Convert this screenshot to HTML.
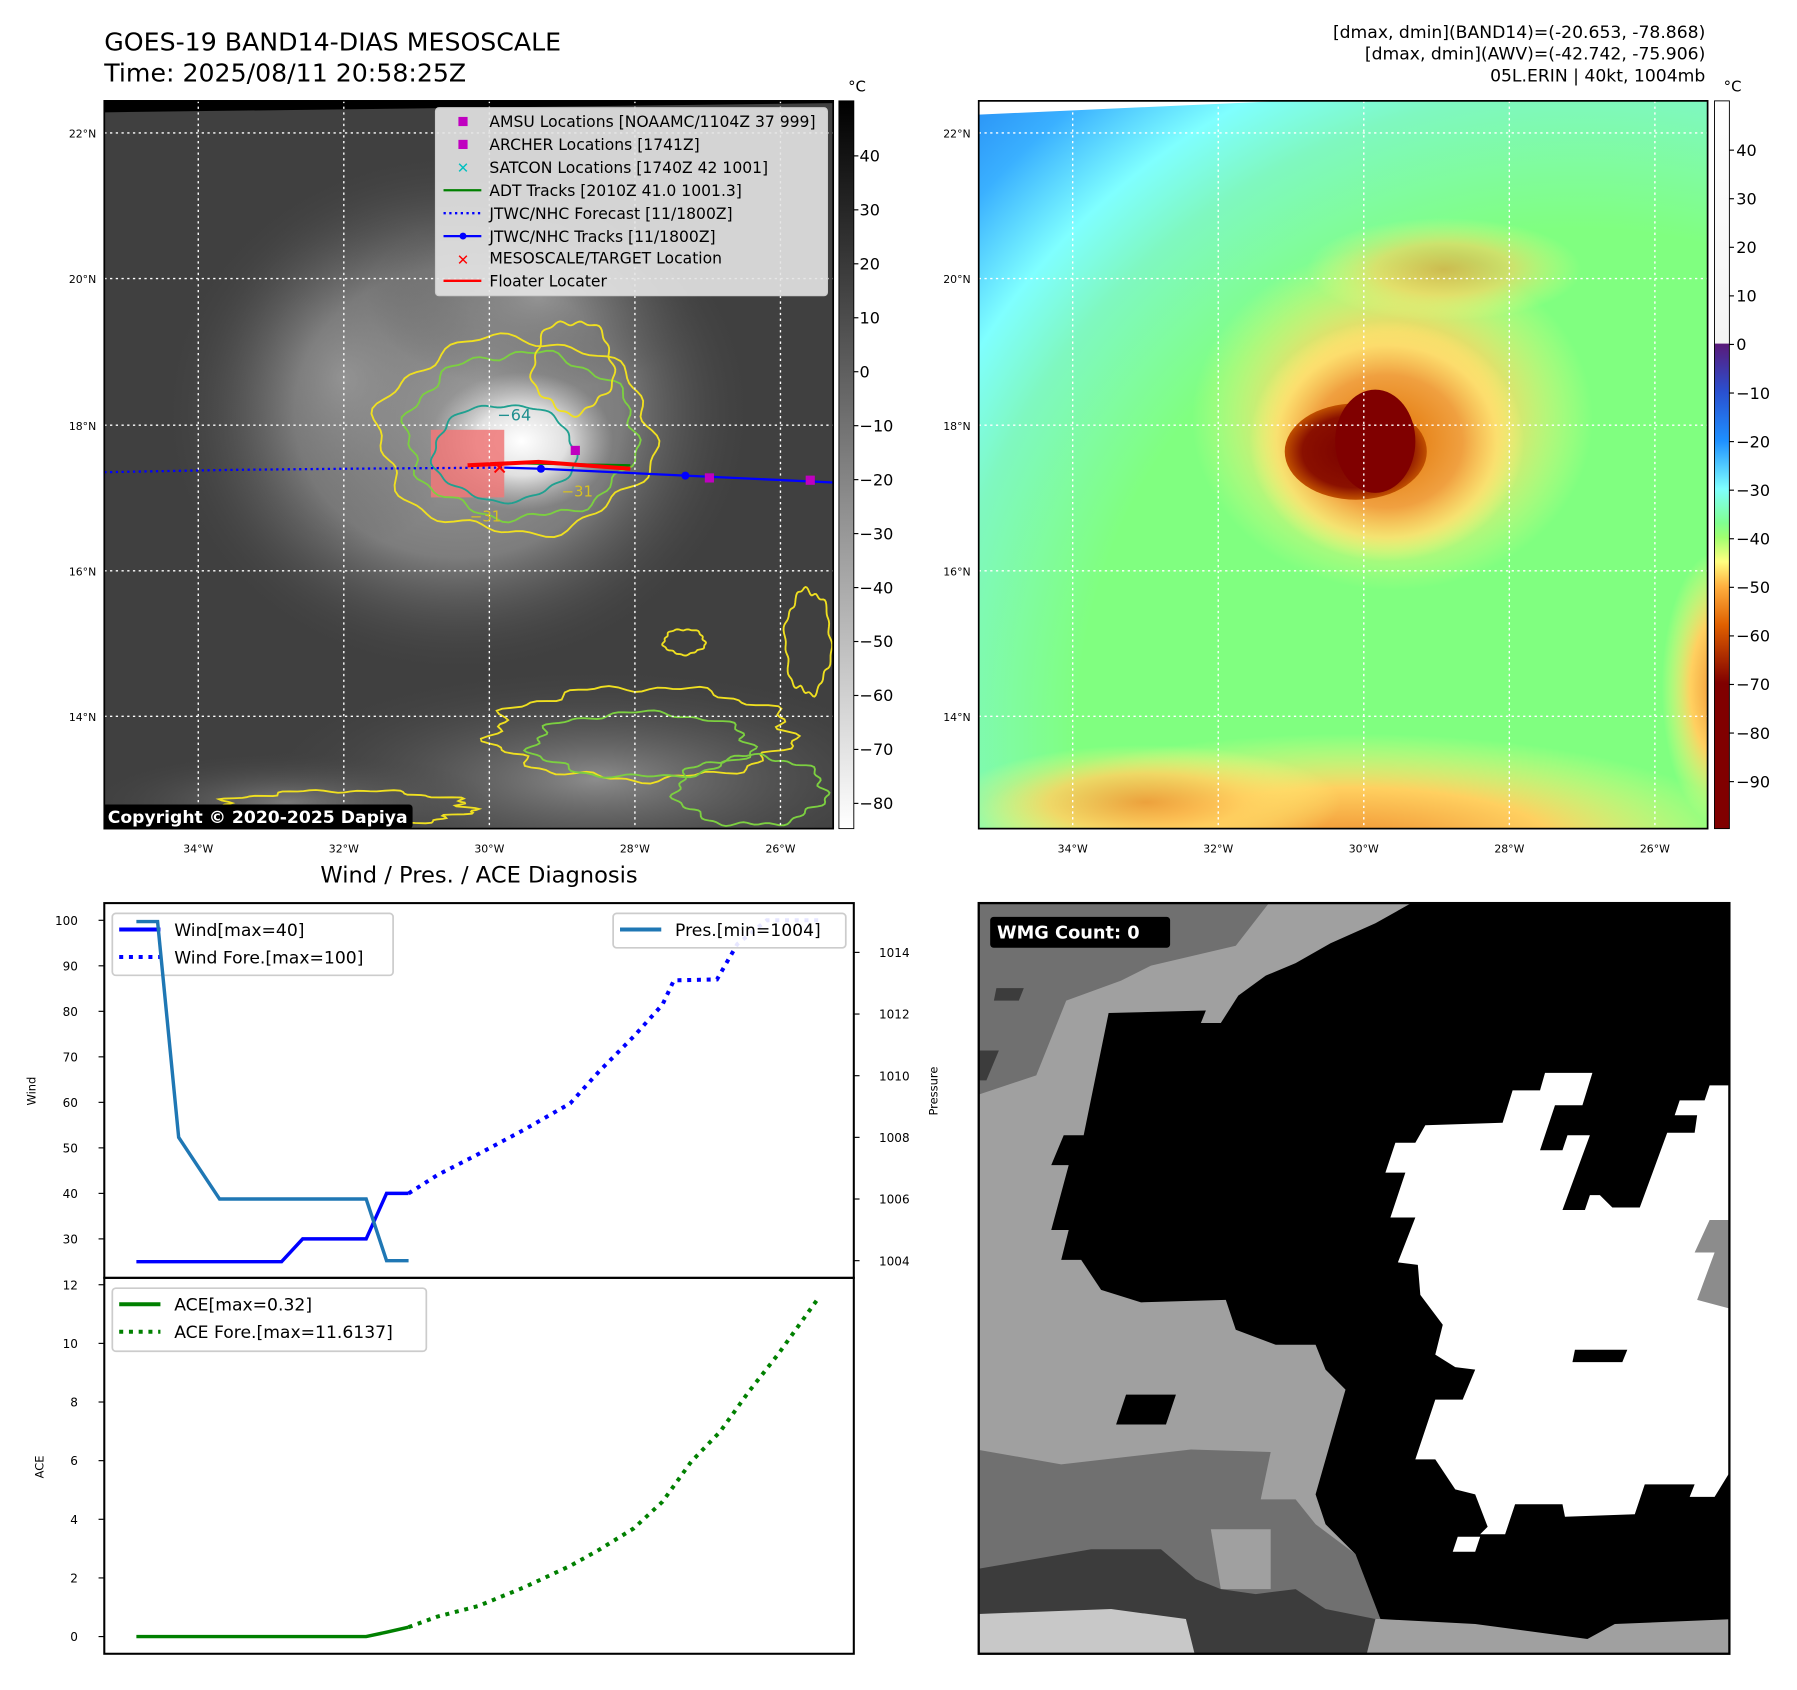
<!DOCTYPE html>
<html><head><meta charset="utf-8"><style>
html,body{margin:0;padding:0;background:#fff}
svg{display:block;font-family:"DejaVu Sans","Liberation Sans",sans-serif}
</style></head><body>
<svg id="root" width="1797" height="1690" viewBox="0 0 1568 1474.6" xmlns="http://www.w3.org/2000/svg">
<defs>
<clipPath id="c1"><rect x="91" y="88" width="636" height="635"/></clipPath>
<clipPath id="c2"><rect x="854" y="88" width="636" height="635"/></clipPath>
<clipPath id="c3"><rect x="854" y="788" width="655" height="655"/></clipPath>
<clipPath id="cTop"><rect x="91" y="788" width="654" height="327"/></clipPath>
<clipPath id="cBot"><rect x="91" y="1115" width="654" height="328"/></clipPath>
<linearGradient id="gcb1" x1="0" y1="0" x2="0" y2="1"><stop offset="0" stop-color="#000"/><stop offset="1" stop-color="#fff"/></linearGradient>
<linearGradient id="gcb2" x1="0" y1="0" x2="0" y2="1">
<stop offset="0" stop-color="#ffffff"/><stop offset="0.333" stop-color="#f4f4f4"/>
<stop offset="0.334" stop-color="#5a1a7a"/><stop offset="0.4" stop-color="#2a50d0"/>
<stop offset="0.467" stop-color="#1e90ff"/><stop offset="0.533" stop-color="#7fffff"/>
<stop offset="0.58" stop-color="#80ff90"/><stop offset="0.6" stop-color="#a0ff70"/>
<stop offset="0.633" stop-color="#ffff80"/><stop offset="0.667" stop-color="#ffb040"/>
<stop offset="0.72" stop-color="#e06000"/><stop offset="0.8" stop-color="#800000"/>
<stop offset="1" stop-color="#800000"/></linearGradient>
<radialGradient id="gbg2" cx="1380" cy="640" r="800" gradientUnits="userSpaceOnUse">
<stop offset="0" stop-color="#80ff80"/><stop offset="0.55" stop-color="#80ff80"/>
<stop offset="0.7" stop-color="#7ff8c0"/><stop offset="0.78" stop-color="#7fffff"/>
<stop offset="0.88" stop-color="#3ab0ff"/><stop offset="1" stop-color="#2080f0"/></radialGradient>
<radialGradient id="gstorm" cx="0.5" cy="0.5" r="0.5">
<stop offset="0" stop-color="#e07000"/><stop offset="0.55" stop-color="#f0a040"/>
<stop offset="0.8" stop-color="#ffe070" stop-opacity="0.8"/><stop offset="1" stop-color="#ffff80" stop-opacity="0"/></radialGradient>
<radialGradient id="geye" cx="0.5" cy="0.5" r="0.5">
<stop offset="0" stop-color="#7a0000"/><stop offset="0.75" stop-color="#8a1000"/><stop offset="1" stop-color="#c05000"/></radialGradient>
<radialGradient id="gband" cx="0.5" cy="0.5" r="0.5">
<stop offset="0" stop-color="#f09030"/><stop offset="0.5" stop-color="#ffd060"/><stop offset="1" stop-color="#ffff80" stop-opacity="0"/></radialGradient>
<radialGradient id="gcloud" cx="0.5" cy="0.5" r="0.5">
<stop offset="0" stop-color="#b8b8b8"/><stop offset="0.55" stop-color="#8c8c8c"/><stop offset="1" stop-color="#404040" stop-opacity="0"/></radialGradient>
<radialGradient id="gcore" cx="0.5" cy="0.5" r="0.5">
<stop offset="0" stop-color="#ffffff"/><stop offset="0.5" stop-color="#e0e0e0"/><stop offset="1" stop-color="#c0c0c0" stop-opacity="0"/></radialGradient>
<radialGradient id="glow" cx="0.5" cy="0.5" r="0.5">
<stop offset="0" stop-color="#a0a0a0"/><stop offset="1" stop-color="#404040" stop-opacity="0"/></radialGradient>
</defs>

<text x="91" y="44" font-size="22">GOES-19 BAND14-DIAS MESOSCALE</text>
<text x="91" y="71" font-size="22">Time: 2025/08/11 20:58:25Z</text>
<g font-size="15" text-anchor="end">
<text x="1488" y="33">[dmax, dmin](BAND14)=(-20.653, -78.868)</text>
<text x="1488" y="52">[dmax, dmin](AWV)=(-42.742, -75.906)</text>
<text x="1488" y="71">05L.ERIN | 40kt, 1004mb</text>
</g>

<g>
<g clip-path="url(#c1)">
<rect x="91" y="88" width="636" height="635" fill="#404040"/>
<polygon points="91,88 727,88 727,90 91,98" fill="#000"/>
<ellipse cx="400" cy="360" rx="260" ry="230" fill="url(#gcloud)" opacity="0.8"/>
<ellipse cx="300" cy="330" rx="120" ry="150" fill="url(#glow)" opacity="0.5"/>
<ellipse cx="470" cy="260" rx="150" ry="80" fill="url(#glow)" opacity="0.6"/>
<ellipse cx="455" cy="385" rx="80" ry="60" fill="url(#gcore)"/>
<ellipse cx="520" cy="680" rx="300" ry="100" fill="url(#glow)" opacity="0.8"/>
<ellipse cx="250" cy="700" rx="180" ry="45" fill="url(#glow)" opacity="0.6"/>
<rect x="376" y="375" width="64" height="59" fill="#f07878" opacity="0.85"/>
<g id="contours1" fill="none"></g>
<g stroke="#fff" stroke-width="1.2" stroke-dasharray="2,3">
<line x1="173" y1="88" x2="173" y2="723"/><line x1="300" y1="88" x2="300" y2="723"/><line x1="427" y1="88" x2="427" y2="723"/><line x1="554" y1="88" x2="554" y2="723"/><line x1="681" y1="88" x2="681" y2="723"/>
<line x1="91" y1="116" x2="727" y2="116"/><line x1="91" y1="243" x2="727" y2="243"/><line x1="91" y1="371" x2="727" y2="371"/><line x1="91" y1="498" x2="727" y2="498"/><line x1="91" y1="625" x2="727" y2="625"/>
</g>
<polyline points="91,412 200,410 300,409 440,408" fill="none" stroke="#0000ff" stroke-width="2" stroke-dasharray="2,3"/>
<polyline points="440,408 472,409 598,415 727,421" fill="none" stroke="#0000ff" stroke-width="2"/>
<circle cx="472" cy="409" r="3.5" fill="#0000ff"/><circle cx="598" cy="415" r="3.5" fill="#0000ff"/>
<polyline points="440,404 550,406" stroke="#008000" stroke-width="2" fill="none"/>
<polyline points="408,406 470,403 550,409" stroke="#ff0000" stroke-width="3.5" fill="none"/>
<rect x="498" y="389" width="8" height="8" fill="#c000c0"/><rect x="615" y="413" width="8" height="8" fill="#c000c0"/><rect x="703" y="415" width="8" height="8" fill="#c000c0"/>
<text x="436" y="414" fill="#ff0000" font-size="17" font-weight="bold" text-anchor="middle">✕</text>
<text x="434" y="367" fill="#1f8f8f" font-size="14">−64</text>
<text x="490" y="433" fill="#d8c020" font-size="13">−31</text>
<text x="410" y="455" fill="#d8c020" font-size="13">−31</text>
<g>
<rect x="380" y="94" width="342" height="164" rx="3" fill="#e4e4e4" fill-opacity="0.9" stroke="#ccc"/>
<g font-size="13.6">
<rect x="400" y="102" width="8" height="8" fill="#c000c0"/><text x="427" y="111">AMSU Locations [NOAAMC/1104Z 37 999]</text>
<rect x="400" y="122" width="8" height="8" fill="#c000c0"/><text x="427" y="131">ARCHER Locations [1741Z]</text>
<text x="404" y="151" fill="#00c0c0" font-size="13" font-weight="bold" text-anchor="middle">✕</text><text x="427" y="151">SATCON Locations [1740Z 42 1001]</text>
<line x1="387" y1="166" x2="420" y2="166" stroke="#008000" stroke-width="2"/><text x="427" y="171">ADT Tracks [2010Z 41.0 1001.3]</text>
<line x1="387" y1="186" x2="420" y2="186" stroke="#0000ff" stroke-width="2" stroke-dasharray="2,3"/><text x="427" y="191">JTWC/NHC Forecast [11/1800Z]</text>
<line x1="387" y1="206" x2="420" y2="206" stroke="#0000ff" stroke-width="2"/><circle cx="404" cy="206" r="3" fill="#0000ff"/><text x="427" y="211">JTWC/NHC Tracks [11/1800Z]</text>
<text x="404" y="231" fill="#ff0000" font-size="13" font-weight="bold" text-anchor="middle">✕</text><text x="427" y="230">MESOSCALE/TARGET Location</text>
<line x1="387" y1="245" x2="420" y2="245" stroke="#ff0000" stroke-width="2"/><text x="427" y="250">Floater Locater</text>
</g></g>
<rect x="89" y="702" width="271" height="21" rx="3" fill="#000"/>
<text x="94" y="718" fill="#fff" font-size="15" font-weight="bold">Copyright © 2020-2025 Dapiya</text>
</g>
<rect x="91" y="88" width="636" height="635" fill="none" stroke="#000" stroke-width="1.5"/>
<g font-size="9.5" text-anchor="end"><text x="84" y="120">22°N</text><text x="84" y="247">20°N</text><text x="84" y="375">18°N</text><text x="84" y="502">16°N</text><text x="84" y="629">14°N</text></g>
<g font-size="9.5" text-anchor="middle"><text x="173" y="744">34°W</text><text x="300" y="744">32°W</text><text x="427" y="744">30°W</text><text x="554" y="744">28°W</text><text x="681" y="744">26°W</text></g>
</g>
<g>
<rect x="732" y="88" width="13" height="635" fill="url(#gcb1)" stroke="#000" stroke-width="0.8"/>
<text x="740" y="80" font-size="13">°C</text>
<g id="cb1labels" font-size="14"></g>
</g>

<g>
<g clip-path="url(#c2)">
<rect x="854" y="88" width="636" height="635" fill="url(#gbg2)"/>
<polygon points="854,88 1120,88 854,100" fill="#fff"/>
<ellipse cx="1215" cy="365" rx="175" ry="150" fill="url(#gband)" opacity="0.9"/>
<ellipse cx="1210" cy="385" rx="120" ry="105" fill="url(#gstorm)"/>
<ellipse cx="1183" cy="394" rx="62" ry="42" fill="url(#geye)"/>
<ellipse cx="1200" cy="385" rx="35" ry="45" fill="#800000"/>
<ellipse cx="1180" cy="735" rx="350" ry="95" fill="url(#gband)"/>
<ellipse cx="1500" cy="600" rx="50" ry="120" fill="url(#gband)"/>
<ellipse cx="1000" cy="700" rx="170" ry="50" fill="url(#gband)" opacity="0.8"/>
<ellipse cx="1260" cy="235" rx="120" ry="45" fill="url(#gband)" opacity="0.6"/>
<g stroke="#fff" stroke-width="1.2" stroke-dasharray="2,3">
<line x1="936" y1="88" x2="936" y2="723"/><line x1="1063" y1="88" x2="1063" y2="723"/><line x1="1190" y1="88" x2="1190" y2="723"/><line x1="1317" y1="88" x2="1317" y2="723"/><line x1="1444" y1="88" x2="1444" y2="723"/>
<line x1="854" y1="116" x2="1490" y2="116"/><line x1="854" y1="243" x2="1490" y2="243"/><line x1="854" y1="371" x2="1490" y2="371"/><line x1="854" y1="498" x2="1490" y2="498"/><line x1="854" y1="625" x2="1490" y2="625"/>
</g></g>
<rect x="854" y="88" width="636" height="635" fill="none" stroke="#000" stroke-width="1.5"/>
<g font-size="9.5" text-anchor="end"><text x="847" y="120">22°N</text><text x="847" y="247">20°N</text><text x="847" y="375">18°N</text><text x="847" y="502">16°N</text><text x="847" y="629">14°N</text></g>
<g font-size="9.5" text-anchor="middle"><text x="936" y="744">34°W</text><text x="1063" y="744">32°W</text><text x="1190" y="744">30°W</text><text x="1317" y="744">28°W</text><text x="1444" y="744">26°W</text></g>
</g>
<g>
<rect x="1496" y="88" width="13" height="635" fill="url(#gcb2)" stroke="#000" stroke-width="0.8"/>
<text x="1504" y="80" font-size="13">°C</text>
<g id="cb2labels" font-size="14"></g>
</g>

<text x="418" y="770" font-size="19.7" text-anchor="middle">Wind / Pres. / ACE Diagnosis</text>
<g id="chart"></g>

<g>
<g clip-path="url(#c3)">
<g transform="translate(852,786) scale(0.4352)">
<rect x="0" y="0" width="1520" height="1520" fill="#a0a0a0"/>
<polygon points="0,0 590,0 520,90 350,130 290,160 180,200 120,350 0,390" fill="#707070"/>
<polygon points="40,175 95,175 85,200 35,200" fill="#3c3c3c"/><polygon points="0,300 45,300 20,360 0,360" fill="#3c3c3c"/>
<polygon points="0,1100 170,1130 430,1100 590,1105 570,1200 640,1200 680,1250 760,1310 810,1440 0,1440" fill="#707070"/>
<polygon points="470,1260 590,1260 590,1380 490,1380" fill="#a0a0a0"/>
<polygon points="0,1340 230,1300 370,1300 440,1360 490,1380 560,1390 640,1380 700,1420 800,1440 780,1520 0,1520" fill="#3c3c3c"/>
<polygon points="0,1430 270,1420 420,1440 440,1520 0,1520" fill="#c8c8c8"/>
<polygon points="810,1440 1000,1430 1000,1455 1225,1450 1230,1480 1275,1480 1280,1445 1520,1440 1520,1520 870,1520" fill="#a0a0a0"/>
<polygon points="880,0 1520,0 1520,1440 1280,1450 1225,1480 1000,1450 810,1440 760,1310 700,1250 680,1190 740,980 700,940 680,890 600,890 520,860 500,800 330,805 250,780 210,720 170,720 185,660 150,660 185,530 150,530 175,470 215,470 265,225 460,220 450,245 490,245 525,190 580,150 640,125 710,85 800,45" fill="#000"/>
<polygon points="1140,345 1235,345 1215,410 1160,410 1130,500 1175,500 1185,470 1230,470 1175,620 1220,620 1230,590 1250,590 1275,615 1330,615 1385,465 1440,465 1445,430 1400,430 1410,400 1460,400 1470,370 1520,370 1520,1130 1480,1195 1430,1195 1440,1170 1340,1170 1320,1230 1180,1235 1175,1210 1080,1210 1060,1270 1010,1270 1025,1255 1000,1190 960,1180 920,1120 880,1120 920,1000 975,1000 1000,940 960,935 920,910 935,850 890,790 885,730 845,725 880,635 830,635 860,545 820,545 840,485 880,485 900,450 1055,445 1075,380 1130,380" fill="#fff"/>
<polygon points="1200,900 1305,900 1295,925 1195,925" fill="#000"/>
<polygon points="300,990 400,990 380,1050 280,1050" fill="#000"/>
<polygon points="965,1275 1010,1275 1000,1305 955,1305" fill="#fff"/>
<polygon points="1520,640 1470,640 1440,705 1480,705 1445,800 1520,820" fill="#8c8c8c"/>
</g>
<rect x="864" y="800" width="157" height="27" rx="3" fill="#000"/>
<text x="870" y="819" fill="#fff" font-size="15.5" font-weight="bold">WMG Count: 0</text>
</g>
<rect x="854" y="788" width="655" height="655" fill="none" stroke="#000" stroke-width="2"/>
</g>
</svg>
<script>
var obsHours = [0, 2.8, 5.6, 11, 19.2, 22, 30.4, 33.1, 36];
var obsWind = [25, 25, 25, 25, 25, 30, 30, 40, 40];
var obsPres = [1015, 1015, 1008, 1006, 1006, 1006, 1006, 1004, 1004];
var obsAce = [0, 0, 0, 0, 0, 0, 0, 0.15, 0.32];
var foreHours = [36, 39.8, 45.2, 51.3, 57.4, 61.2, 65.8, 69.6, 71.1, 76.8, 79.5, 83.4, 90.2];
var foreWind = [40, 44, 48.6, 54, 59.8, 66.8, 74.5, 81.5, 86.8, 87, 94.8, 100, 100];
var aceForeHours = [36, 39.8, 45.2, 51.3, 57.4, 61.2, 65.8, 69.6, 73.4, 77.2, 81, 84.9, 90.2];
var foreAce = [0.32, 0.68, 1.04, 1.68, 2.41, 2.96, 3.69, 4.6, 5.97, 6.98, 8.35, 9.63, 11.54];
var windTicks = [30, 40, 50, 60, 70, 80, 90, 100];
var presTicks = [1004, 1006, 1008, 1010, 1012, 1014];
var aceTicks = [0, 2, 4, 6, 8, 10, 12];
var cb1Ticks = [40, 30, 20, 10, 0, -10, -20, -30, -40, -50, -60, -70, -80];
var cb2Ticks = [40, 30, 20, 10, 0, -10, -20, -30, -40, -50, -60, -70, -80, -90];

var NS = 'http://www.w3.org/2000/svg';
function mk(tag, attrs, parent) {
  var e = document.createElementNS(NS, tag);
  for (var k in attrs) e.setAttribute(k, attrs[k]);
  if (parent) parent.appendChild(e);
  return e;
}
function xS(h) { return 119 + h * (714 - 119) / 90.2; }
function yW(w) { return 803 + (100 - w) * (1081 - 803) / 70; }
function yP(p) { return 831 + (1014 - p) * (1100 - 831) / 10; }
function yA(a) { return 1428 - a * (1428 - 1121) / 12; }
function pts(xs, ys, fy) { return xs.map(function (h, i) { return xS(h).toFixed(1) + ',' + fy(ys[i]).toFixed(1); }).join(' '); }

var chart = document.getElementById('chart');
var topFrame = mk('rect', {x: 91, y: 788, width: 654, height: 327, fill: 'none', stroke: '#000', 'stroke-width': 1.8}, chart);


var botFrame = mk('rect', {x: 91, y: 1115, width: 654, height: 328, fill: 'none', stroke: '#000', 'stroke-width': 1.8}, chart);



windTicks.forEach(function (v) {
  var y = yW(v);
  mk('line', {x1: 86, y1: y, x2: 91, y2: y, stroke: '#000'}, chart);
  var t = mk('text', {x: 68, y: y + 4, 'font-size': 10.5, 'text-anchor': 'end'}, chart);
  t.textContent = v;
  
  
});
presTicks.forEach(function (v) {
  var y = yP(v);
  mk('line', {x1: 745, y1: y, x2: 750, y2: y, stroke: '#000'}, chart);
  var t = mk('text', {x: 767, y: y + 4, 'font-size': 10.5}, chart);
  t.textContent = v;
  
  
});
aceTicks.forEach(function (v) {
  var y = yA(v);
  mk('line', {x1: 86, y1: y, x2: 91, y2: y, stroke: '#000'}, chart);
  var t = mk('text', {x: 68, y: y + 4, 'font-size': 10.5, 'text-anchor': 'end'}, chart);
  t.textContent = v;
  
  
});
var yl1 = mk('text', {x: 31, y: 952, 'font-size': 10, 'text-anchor': 'middle', transform: 'rotate(-90 31 952)'}, chart);
yl1.textContent = 'Wind';


var yl2 = mk('text', {x: 818, y: 952, 'font-size': 10, 'text-anchor': 'middle', transform: 'rotate(-90 818 952)'}, chart);
yl2.textContent = 'Pressure';


var yl3 = mk('text', {x: 38, y: 1280, 'font-size': 10, 'text-anchor': 'middle', transform: 'rotate(-90 38 1280)'}, chart);
yl3.textContent = 'ACE';



function legend(x, y, w, h, items, name) {
  var g = mk('g', {}, chart);
  
  
  mk('rect', {x: x, y: y, width: w, height: h, rx: 3, fill: '#fff', 'fill-opacity': 0.9, stroke: '#ccc', 'stroke-width': 1.5}, g);
  items.forEach(function (it, i) {
    var cy = y + 14 + i * 24;
    var a = {x1: x + 6, y1: cy, x2: x + 42, y2: cy, stroke: it.c, 'stroke-width': 3.5};
    if (it.d) a['stroke-dasharray'] = '3.5,5';
    mk('line', a, g);
    var t = mk('text', {x: x + 54, y: cy + 5.5, 'font-size': 15}, g);
    t.textContent = it.t;
  });
}

var gTop = mk('g', {'clip-path': 'url(#cTop)'}, chart);
var l;
l = mk('polyline', {points: pts(obsHours, obsWind, yW), fill: 'none', stroke: '#0000ff', 'stroke-width': 3}, gTop);


l = mk('polyline', {points: pts(foreHours, foreWind, yW), fill: 'none', stroke: '#0000ff', 'stroke-width': 3.5, 'stroke-dasharray': '3.5,5'}, gTop);


legend(98, 797, 245, 54, [{c: '#0000ff', t: 'Wind[max=40]'}, {c: '#0000ff', d: 1, t: 'Wind Fore.[max=100]'}], 'wind-legend');
var gTop2 = mk('g', {'clip-path': 'url(#cTop)'}, chart);
l = mk('polyline', {points: pts(obsHours, obsPres, yP), fill: 'none', stroke: '#1f77b4', 'stroke-width': 3}, gTop2);


legend(535, 797, 203, 30, [{c: '#1f77b4', t: 'Pres.[min=1004]'}], 'pressure-legend');

var gBot = mk('g', {'clip-path': 'url(#cBot)'}, chart);
l = mk('polyline', {points: pts(obsHours, obsAce, yA), fill: 'none', stroke: '#008000', 'stroke-width': 3}, gBot);


l = mk('polyline', {points: pts(aceForeHours, foreAce, yA), fill: 'none', stroke: '#008000', 'stroke-width': 3.5, 'stroke-dasharray': '3.5,5'}, gBot);


legend(98, 1124, 274, 55, [{c: '#008000', t: 'ACE[max=0.32]'}, {c: '#008000', d: 1, t: 'ACE Fore.[max=11.6137]'}], 'ace-legend');

var cb1 = document.getElementById('cb1labels');
cb1Ticks.forEach(function (v) {
  var y = 136 + (40 - v) * (701 - 136) / 120;
  mk('line', {x1: 745, y1: y, x2: 749, y2: y, stroke: '#000'}, cb1);
  var t = mk('text', {x: 750, y: y + 5}, cb1);
  t.textContent = v < 0 ? '\u2212' + (-v) : v;
  
  
});
var cb2 = document.getElementById('cb2labels');
cb2Ticks.forEach(function (v) {
  var y = 131 + (40 - v) * (682 - 131) / 130;
  mk('line', {x1: 1509, y1: y, x2: 1513, y2: y, stroke: '#000'}, cb2);
  var t = mk('text', {x: 1515, y: y + 5}, cb2);
  t.textContent = v < 0 ? '\u2212' + (-v) : v;
  
  
});

var cg = document.getElementById('contours1');
function blob(cx, cy, rx, ry, amp, f, col, w) {
  var p = [];
  for (var i = 0; i <= 120; i++) {
    var a = i / 120 * Math.PI * 2;
    var r = 1 + amp * (Math.sin(a * f) * 0.6 + Math.sin(a * (f * 2 + 3) + 1) * 0.4);
    p.push((cx + Math.cos(a) * rx * r).toFixed(1) + ',' + (cy + Math.sin(a) * ry * r).toFixed(1));
  }
  var pg = mk('polygon', {points: p.join(' '), stroke: col, 'stroke-width': w || 1.6, fill: 'none'}, cg);
  
  
}
blob(450, 380, 120, 85, 0.08, 6, '#f0e020');
blob(455, 380, 100, 72, 0.07, 8, '#7cd040');
blob(440, 395, 62, 42, 0.06, 5, '#20a090');
blob(500, 320, 35, 40, 0.1, 5, '#f0e020');
blob(560, 640, 130, 40, 0.1, 9, '#f0e020');
blob(560, 650, 95, 28, 0.1, 7, '#7cd040');
blob(300, 705, 110, 15, 0.12, 9, '#f0e020');
blob(705, 560, 20, 45, 0.1, 6, '#f0e020');
blob(655, 690, 65, 30, 0.1, 7, '#7cd040');
blob(597, 560, 18, 11, 0.1, 5, '#f0e020');
</script>
</body></html>
